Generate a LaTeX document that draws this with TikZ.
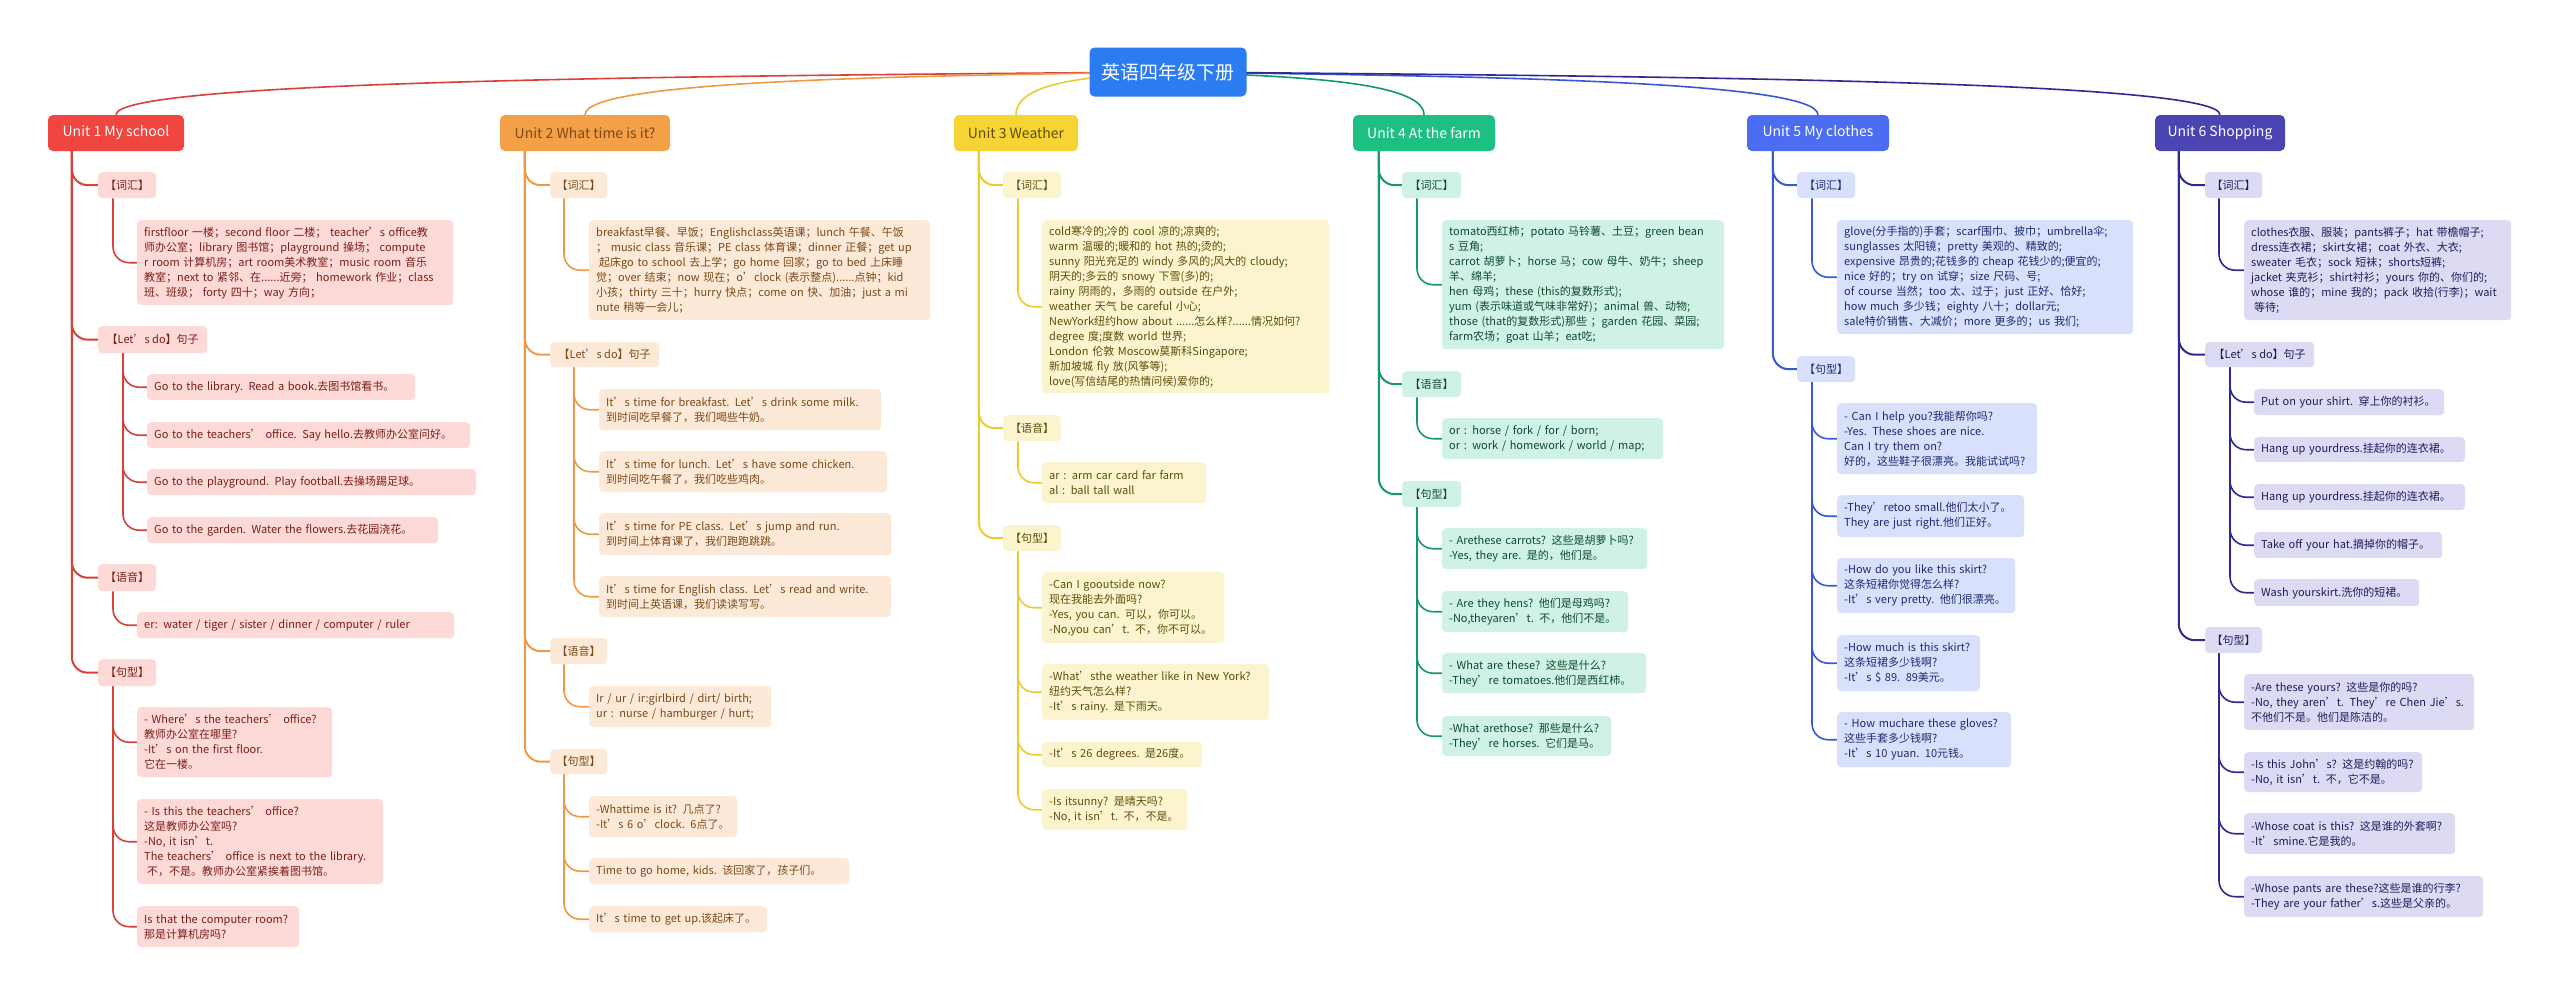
\documentclass[tikz,border=0pt]{standalone}
\usepackage{fontspec}
\setmainfont{Noto Sans CJK SC}
\usetikzlibrary{backgrounds,calc}
\definecolor{tc}{HTML}{2B7CF0}
\definecolor{c1m}{HTML}{F0463F}\definecolor{c1l}{HTML}{FDD9D7}\definecolor{c1t}{HTML}{7A1E19}\definecolor{c1n}{HTML}{D8403A}
\definecolor{c2m}{HTML}{F4A048}\definecolor{c2l}{HTML}{FDE9D8}\definecolor{c2t}{HTML}{7A4A17}\definecolor{c2n}{HTML}{EE9A45}
\definecolor{c3m}{HTML}{F6D434}\definecolor{c3l}{HTML}{FCF4CF}\definecolor{c3t}{HTML}{5E4E0A}\definecolor{c3n}{HTML}{EBCB2E}
\definecolor{c4m}{HTML}{1DBF82}\definecolor{c4l}{HTML}{CFF2E4}\definecolor{c4t}{HTML}{0E4A33}\definecolor{c4n}{HTML}{14996A}
\definecolor{c5m}{HTML}{4C6CF2}\definecolor{c5l}{HTML}{D9E0FB}\definecolor{c5t}{HTML}{1C2B72}\definecolor{c5n}{HTML}{3A58D6}
\definecolor{c6m}{HTML}{4B45B4}\definecolor{c6l}{HTML}{DCDBF3}\definecolor{c6t}{HTML}{1F1C5C}\definecolor{c6n}{HTML}{2E2A90}
\newcommand\lfs{\fontsize{11}{15}\selectfont}
\newcommand\mmconn[4]{\draw[#1] ([xshift=#2]#3.south west) |- (#4.west);}
\newcommand\mmtop[2]{\draw[#1, line width=1.6pt] (T.center) .. controls ($(T.center)!0.45!(#2.north |- T.center)+(0,4)$) and ($(#2.north |- T.center)+(0,8)$) .. (#2.north);}
\tikzset{
  leaf/.style={anchor=north west, rounded corners=4pt, inner xsep=7pt, inner ysep=0pt, align=left, font=\lfs},
  hdr/.style={anchor=north west, rounded corners=4pt, inner sep=0pt, align=center, font=\lfs, minimum height=26pt},
  unitbox/.style={rounded corners=5pt, inner sep=0pt, minimum height=36pt, font=\fontsize{14}{16}\selectfont, text=white},
  titlebox/.style={rounded corners=5pt, inner sep=0pt, minimum width=157pt, minimum height=49pt, fill=tc, text=white, font=\fontsize{19}{22}\selectfont},
  b1/.style={fill=c1l, text=c1t}, b2/.style={fill=c2l, text=c2t}, b3/.style={fill=c3l, text=c3t},
  b4/.style={fill=c4l, text=c4t}, b5/.style={fill=c5l, text=c5t}, b6/.style={fill=c6l, text=c6t},
  t1/.style={draw=c1n, line width=2pt, rounded corners=16pt}, s1/.style={draw=c1n, line width=1.6pt, rounded corners=16pt},
  t2/.style={draw=c2n, line width=2pt, rounded corners=16pt}, s2/.style={draw=c2n, line width=1.6pt, rounded corners=16pt},
  t3/.style={draw=c3n, line width=2pt, rounded corners=16pt}, s3/.style={draw=c3n, line width=1.6pt, rounded corners=16pt},
  t4/.style={draw=c4n, line width=2pt, rounded corners=16pt}, s4/.style={draw=c4n, line width=1.6pt, rounded corners=16pt},
  t5/.style={draw=c5n, line width=2pt, rounded corners=16pt}, s5/.style={draw=c5n, line width=1.6pt, rounded corners=16pt},
  t6/.style={draw=c6n, line width=2pt, rounded corners=16pt}, s6/.style={draw=c6n, line width=1.6pt, rounded corners=16pt},
}
\begin{document}
\begin{tikzpicture}[x=1pt,y=-1pt]
\useasboundingbox (0,0) rectangle (2560,996);

% title and units
\node[titlebox] (T) at (1168,72) {英语四年级下册};
\node[unitbox, fill=c1m, minimum width=136pt] (u1) at (116,133) {Unit 1 My school};
\node[unitbox, fill=c2m, minimum width=170pt, text=c2t] (u2) at (585,133) {Unit 2 What time is it?};
\node[unitbox, fill=c3m, minimum width=124pt, text=c3t] (u3) at (1016,133) {Unit 3 Weather};
\node[unitbox, fill=c4m, minimum width=142pt] (u4) at (1424,133) {Unit 4 At the farm};
\node[unitbox, fill=c5m, minimum width=142pt] (u5) at (1818,133) {Unit 5 My clothes};
\node[unitbox, fill=c6m, minimum width=130pt] (u6) at (2220,133) {Unit 6 Shopping};

% ---------- Unit 1 ----------
\node[hdr,b1,minimum width=58pt] (u1a) at (98,172) {【词汇】};
\node[leaf,b1,text width=302pt,minimum height=85pt] (u1a1) at (137,220) {firstfloor 一楼；second floor 二楼；  teacher’s office教\\师办公室；library 图书馆；playground 操场；  compute\\r room 计算机房；art room美术教室；music room 音乐\\教室；next to 紧邻、在......近旁；  homework 作业；class\\ 班、班级；  forty 四十；way 方向；};
\node[hdr,b1,minimum width=109pt,minimum height=27pt] (u1b) at (98,326) {【Let’s do】句子};
\node[leaf,b1,text width=254pt,minimum height=26pt] (u1b1) at (147,374) {Go to the library. Read a book.去图书馆看书。};
\node[leaf,b1,text width=309pt,minimum height=26pt] (u1b2) at (147,422) {Go to the teachers’ office. Say hello.去教师办公室问好。};
\node[leaf,b1,text width=315pt,minimum height=26pt] (u1b3) at (147,469) {Go to the playground. Play football.去操场踢足球。};
\node[leaf,b1,text width=277pt,minimum height=26pt] (u1b4) at (147,517) {Go to the garden. Water the flowers.去花园浇花。};
\node[hdr,b1,minimum width=58pt,minimum height=27pt] (u1c) at (98,564) {【语音】};
\node[leaf,b1,text width=303pt,minimum height=26pt] (u1c1) at (137,612) {er: water / tiger / sister / dinner / computer / ruler};
\node[hdr,b1,minimum width=58pt,minimum height=27pt] (u1d) at (98,659) {【句型】};
\node[leaf,b1,text width=181pt,minimum height=70pt] (u1d1) at (137,707) {- Where’s the teachers’ office?\\教师办公室在哪里?\\-It’s on the first floor.\\它在一楼。};
\node[leaf,b1,text width=232pt,minimum height=85pt] (u1d2) at (137,799) {- Is this the teachers’ office?\\这是教师办公室吗?\\-No, it isn’t.\\The teachers’ office is next to the library.\\\hspace*{3pt}不，不是。教师办公室紧挨着图书馆。};
\node[leaf,b1,text width=148pt,minimum height=41pt] (u1d3) at (137,906) {Is that the computer room?\\那是计算机房吗?};

% ---------- Unit 2 ----------
\node[hdr,b2,minimum width=57pt] (u2a) at (550,172) {【词汇】};
\node[leaf,b2,text width=327pt,minimum height=100pt] (u2a1) at (589,220) {breakfast早餐、早饭；Englishclass英语课；lunch 午餐、午饭\\；  music class 音乐课；PE class 体育课；dinner 正餐；get up\\\hspace*{3pt}起床go to school 去上学；go home 回家；go to bed 上床睡\\觉；over 结束；now 现在；o’clock (表示整点)......点钟；kid\\小孩；thirty 三十；hurry 快点；come on 快、加油；just a mi\\nute 稍等一会儿；};
\node[hdr,b2,minimum width=109pt,minimum height=25pt] (u2b) at (550,342) {【Let’s do】句子};
\node[leaf,b2,text width=268pt,minimum height=41pt] (u2b1) at (599,389) {It’s time for breakfast. Let’s drink some milk.\\到时间吃早餐了，我们喝些牛奶。};
\node[leaf,b2,text width=274pt,minimum height=41pt] (u2b2) at (599,451) {It’s time for lunch. Let’s have some chicken.\\到时间吃午餐了，我们吃些鸡肉。};
\node[leaf,b2,text width=278pt,minimum height=42pt] (u2b3) at (599,513) {It’s time for PE class. Let’s jump and run.\\到时间上体育课了，我们跑跑跳跳。};
\node[leaf,b2,text width=278pt,minimum height=41pt] (u2b4) at (599,576) {It’s time for English class. Let’s read and write.\\到时间上英语课，我们读读写写。};
\node[hdr,b2,minimum width=57pt] (u2c) at (550,638) {【语音】};
\node[leaf,b2,text width=168pt,minimum height=41pt] (u2c1) at (589,686) {Ir / ur / ir:girlbird / dirt/ birth;\\ur : nurse / hamburger / hurt;};
\node[hdr,b2,minimum width=57pt,minimum height=25pt] (u2d) at (550,749) {【句型】};
\node[leaf,b2,text width=134pt,minimum height=41pt] (u2d1) at (589,796) {-Whattime is it? 几点了?\\-It’s 6 o’clock. 6点了。};
\node[leaf,b2,text width=246pt,minimum height=26pt] (u2d2) at (589,858) {Time to go home, kids. 该回家了，孩子们。};
\node[leaf,b2,text width=164pt,minimum height=26pt] (u2d3) at (589,906) {It’s time to get up.该起床了。};

% ---------- Unit 3 ----------
\node[hdr,b3,minimum width=58pt] (u3a) at (1003,172) {【词汇】};
\node[leaf,b3,text width=273pt,minimum height=173pt] (u3a1) at (1042,220) {cold寒冷的;冷的 cool 凉的;凉爽的;\\warm 温暖的;暖和的 hot 热的;烫的;\\sunny 阳光充足的 windy 多风的;风大的 cloudy;\\阴天的;多云的 snowy 下雪(多)的;\\rainy 阴雨的，多雨的 outside 在户外;\\weather 天气 be careful 小心;\\NewYork纽约how about ......怎么样?......情况如何?\\degree 度;度数 world 世界;\\London 伦敦 Moscow莫斯科Singapore;\\新加坡城 fly 放(风筝等);\\love(写信结尾的热情问候)爱你的;};
\node[hdr,b3,minimum width=58pt] (u3b) at (1003,415) {【语音】};
\node[leaf,b3,text width=150pt,minimum height=41pt] (u3b1) at (1042,462) {ar : arm car card far farm\\al : ball tall wall};
\node[hdr,b3,minimum width=58pt] (u3c) at (1003,525) {【句型】};
\node[leaf,b3,text width=168pt,minimum height=71pt] (u3c1) at (1042,572) {-Can I gooutside now?\\现在我能去外面吗?\\-Yes, you can. 可以，你可以。\\-No,you can’t. 不，你不可以。};
\node[leaf,b3,text width=213pt,minimum height=56pt] (u3c2) at (1042,664) {-What’sthe weather like in New York?\\纽约天气怎么样?\\-It’s rainy. 是下雨天。};
\node[leaf,b3,text width=146pt,minimum height=25pt] (u3c3) at (1042,742) {-It’s 26 degrees. 是26度。};
\node[leaf,b3,text width=131pt,minimum height=41pt] (u3c4) at (1042,789) {-Is itsunny? 是晴天吗?\\-No, it isn’t. 不，不是。};

% ---------- Unit 4 ----------
\node[hdr,b4,minimum width=59pt] (u4a) at (1402,172) {【词汇】};
\node[leaf,b4,text width=268pt,minimum height=129pt] (u4a1) at (1442,220) {tomato西红柿；potato 马铃薯、土豆；green bean\\s 豆角;\\carrot 胡萝卜；horse 马；cow 母牛、奶牛；sheep\\羊、绵羊;\\hen 母鸡；these (this的复数形式);\\yum (表示味道或气味非常好)；animal 兽、动物;\\those (that的复数形式)那些 ；garden 花园、菜园;\\farm农场；goat 山羊；eat吃;};
\node[hdr,b4,minimum width=59pt] (u4b) at (1402,371) {【语音】};
\node[leaf,b4,text width=207pt,minimum height=41pt] (u4b1) at (1442,418) {or : horse / fork / for / born;\\or : work / homework / world / map;};
\node[hdr,b4,minimum width=59pt] (u4c) at (1402,481) {【句型】};
\node[leaf,b4,text width=191pt,minimum height=41pt] (u4c1) at (1442,528) {- Arethese carrots? 这些是胡萝卜吗?\\-Yes, they are. 是的，他们是。};
\node[leaf,b4,text width=172pt,minimum height=41pt] (u4c2) at (1442,591) {- Are they hens? 他们是母鸡吗?\\-No,theyaren’t. 不，他们不是。};
\node[leaf,b4,text width=190pt,minimum height=40pt] (u4c3) at (1442,653) {- What are these? 这些是什么?\\-They’re tomatoes.他们是西红柿。};
\node[leaf,b4,text width=155pt,minimum height=40pt] (u4c4) at (1442,716) {-What arethose? 那些是什么?\\-They’re horses. 它们是马。};

% ---------- Unit 5 ----------
\node[hdr,b5,minimum width=58pt] (u5a) at (1797,172) {【词汇】};
\node[leaf,b5,text width=282pt,minimum height=114pt] (u5a1) at (1837,220) {glove(分手指的)手套；scarf围巾、披巾；umbrella伞;\\sunglasses 太阳镜；pretty 美观的、精致的;\\expensive 昂贵的;花钱多的 cheap 花钱少的;便宜的;\\nice 好的；try on 试穿；size 尺码、号;\\of course 当然；too 太、过于；just 正好、恰好;\\how much 多少钱；eighty 八十；dollar元;\\sale特价销售、大减价；more 更多的；us 我们;};
\node[hdr,b5,minimum width=58pt] (u5b) at (1797,356) {【句型】};
\node[leaf,b5,text width=186pt,minimum height=71pt] (u5b1) at (1837,403) {- Can I help you?我能帮你吗?\\-Yes. These shoes are nice.\\Can I try them on?\\好的，这些鞋子很漂亮。我能试试吗?};
\node[leaf,b5,text width=173pt,minimum height=42pt] (u5b2) at (1837,495) {-They’retoo small.他们太小了。\\They are just right.他们正好。};
\node[leaf,b5,text width=164pt,minimum height=55pt] (u5b3) at (1837,558) {-How do you like this skirt?\\这条短裙你觉得怎么样?\\-It’s very pretty. 他们很漂亮。};
\node[leaf,b5,text width=129pt,minimum height=56pt] (u5b4) at (1837,635) {-How much is this skirt?\\这条短裙多少钱啊?\\-It’s \$ 89. 89美元。};
\node[leaf,b5,text width=160pt,minimum height=55pt] (u5b5) at (1837,712) {- How muchare these gloves?\\这些手套多少钱啊?\\-It’s 10 yuan. 10元钱。};

% ---------- Unit 6 ----------
\node[hdr,b6,minimum width=57pt] (u6a) at (2205,172) {【词汇】};
\node[leaf,b6,text width=253pt,minimum height=100pt] (u6a1) at (2244,220) {clothes衣服、服装；pants裤子；hat 带檐帽子;\\dress连衣裙；skirt女裙；coat 外衣、大衣;\\sweater 毛衣；sock 短袜；shorts短裤;\\jacket 夹克衫；shirt衬衫；yours 你的、你们的;\\whose 谁的；mine 我的；pack 收拾(行李)；wait\\\hspace*{3pt}等待;};
\node[hdr,b6,minimum width=109pt,minimum height=25pt] (u6b) at (2205,342) {【Let’s do】句子};
\node[leaf,b6,text width=176pt,minimum height=26pt] (u6b1) at (2254,389) {Put on your shirt. 穿上你的衬衫。};
\node[leaf,b6,text width=197pt,minimum height=25pt] (u6b2) at (2254,437) {Hang up yourdress.挂起你的连衣裙。};
\node[leaf,b6,text width=197pt,minimum height=26pt] (u6b3) at (2254,484) {Hang up yourdress.挂起你的连衣裙。};
\node[leaf,b6,text width=174pt,minimum height=26pt] (u6b4) at (2254,532) {Take off your hat.摘掉你的帽子。};
\node[leaf,b6,text width=151pt,minimum height=27pt] (u6b5) at (2254,579) {Wash yourskirt.洗你的短裙。};
\node[hdr,b6,minimum width=57pt] (u6c) at (2205,627) {【句型】};
\node[leaf,b6,text width=216pt,minimum height=56pt] (u6c1) at (2244,674) {-Are these yours? 这些是你的吗?\\-No, they aren’t. They’re Chen Jie’s.\\不他们不是。他们是陈洁的。};
\node[leaf,b6,text width=164pt,minimum height=40pt] (u6c2) at (2244,752) {-Is this John’s? 这是约翰的吗?\\-No, it isn’t. 不，它不是。};
\node[leaf,b6,text width=197pt,minimum height=41pt] (u6c3) at (2244,813) {-Whose coat is this? 这是谁的外套啊?\\-It’smine.它是我的。};
\node[leaf,b6,text width=225pt,minimum height=41pt] (u6c4) at (2244,876) {-Whose pants are these?这些是谁的行李?\\-They are your father’s.这些是父亲的。};

\begin{scope}[on background layer]
\fill[white] (0,0) rectangle (2560,996);
% title connectors
\mmtop{c1n}{u1}\mmtop{c2n}{u2}\mmtop{c3n}{u3}\mmtop{c4n}{u4}\mmtop{c5n}{u5}\mmtop{c6n}{u6}
% unit 1
\mmconn{t1}{24pt}{u1}{u1a}\mmconn{t1}{24pt}{u1}{u1b}\mmconn{t1}{24pt}{u1}{u1c}\mmconn{t1}{24pt}{u1}{u1d}
\mmconn{s1}{15pt}{u1a}{u1a1}
\mmconn{s1}{25pt}{u1b}{u1b1}\mmconn{s1}{25pt}{u1b}{u1b2}\mmconn{s1}{25pt}{u1b}{u1b3}\mmconn{s1}{25pt}{u1b}{u1b4}
\mmconn{s1}{15pt}{u1c}{u1c1}
\mmconn{s1}{15pt}{u1d}{u1d1}\mmconn{s1}{15pt}{u1d}{u1d2}\mmconn{s1}{15pt}{u1d}{u1d3}
% unit 2
\mmconn{t2}{25pt}{u2}{u2a}\mmconn{t2}{25pt}{u2}{u2b}\mmconn{t2}{25pt}{u2}{u2c}\mmconn{t2}{25pt}{u2}{u2d}
\mmconn{s2}{14pt}{u2a}{u2a1}
\mmconn{s2}{24pt}{u2b}{u2b1}\mmconn{s2}{24pt}{u2b}{u2b2}\mmconn{s2}{24pt}{u2b}{u2b3}\mmconn{s2}{24pt}{u2b}{u2b4}
\mmconn{s2}{14pt}{u2c}{u2c1}
\mmconn{s2}{14pt}{u2d}{u2d1}\mmconn{s2}{14pt}{u2d}{u2d2}\mmconn{s2}{14pt}{u2d}{u2d3}
% unit 3
\mmconn{t3}{25pt}{u3}{u3a}\mmconn{t3}{25pt}{u3}{u3b}\mmconn{t3}{25pt}{u3}{u3c}
\mmconn{s3}{15pt}{u3a}{u3a1}
\mmconn{s3}{15pt}{u3b}{u3b1}
\mmconn{s3}{15pt}{u3c}{u3c1}\mmconn{s3}{15pt}{u3c}{u3c2}\mmconn{s3}{15pt}{u3c}{u3c3}\mmconn{s3}{15pt}{u3c}{u3c4}
% unit 4
\mmconn{t4}{26pt}{u4}{u4a}\mmconn{t4}{26pt}{u4}{u4b}\mmconn{t4}{26pt}{u4}{u4c}
\mmconn{s4}{15pt}{u4a}{u4a1}
\mmconn{s4}{15pt}{u4b}{u4b1}
\mmconn{s4}{15pt}{u4c}{u4c1}\mmconn{s4}{15pt}{u4c}{u4c2}\mmconn{s4}{15pt}{u4c}{u4c3}\mmconn{s4}{15pt}{u4c}{u4c4}
% unit 5
\mmconn{t5}{26pt}{u5}{u5a}\mmconn{t5}{26pt}{u5}{u5b}
\mmconn{s5}{15pt}{u5a}{u5a1}
\mmconn{s5}{15pt}{u5b}{u5b1}\mmconn{s5}{15pt}{u5b}{u5b2}\mmconn{s5}{15pt}{u5b}{u5b3}\mmconn{s5}{15pt}{u5b}{u5b4}\mmconn{s5}{15pt}{u5b}{u5b5}
% unit 6
\mmconn{t6}{24pt}{u6}{u6a}\mmconn{t6}{24pt}{u6}{u6b}\mmconn{t6}{24pt}{u6}{u6c}
\mmconn{s6}{14pt}{u6a}{u6a1}
\mmconn{s6}{25pt}{u6b}{u6b1}\mmconn{s6}{25pt}{u6b}{u6b2}\mmconn{s6}{25pt}{u6b}{u6b3}\mmconn{s6}{25pt}{u6b}{u6b4}\mmconn{s6}{25pt}{u6b}{u6b5}
\mmconn{s6}{14pt}{u6c}{u6c1}\mmconn{s6}{14pt}{u6c}{u6c2}\mmconn{s6}{14pt}{u6c}{u6c3}\mmconn{s6}{14pt}{u6c}{u6c4}
\end{scope}
\end{tikzpicture}
\end{document}
